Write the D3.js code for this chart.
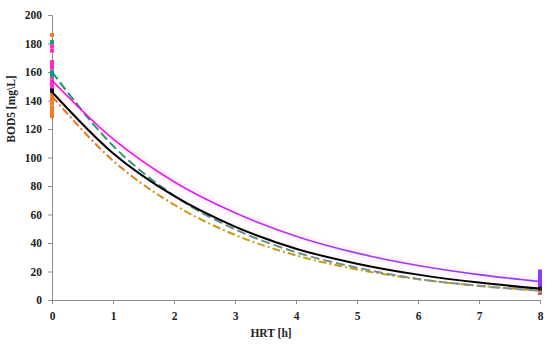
<!DOCTYPE html>
<html>
<head>
<meta charset="utf-8">
<script src="https://cdn.jsdelivr.net/npm/d3@7"></script>
<style>
  body { margin: 0; background: #fff; }
  text { font-family: "Liberation Serif", "DejaVu Serif", serif; font-weight: bold; }
</style>
</head>
<body>
<div id="chart"></div>
<script>
// 時間 [h]
var hours = [0, 1, 2, 3, 4, 5, 6, 7, 8];
var xTicks = [0, 1, 2, 3, 4, 5, 6, 7, 8];
var yTicks = [0, 20, 40, 60, 80, 100, 120, 140, 160, 180, 200];

// 近似曲線 (読み取り値)
var fitBlack   = [146, 103, 73, 51.5, 36, 25.5, 17.8, 12.2, 8];
var fitMagenta = [154, 113, 83, 61.2, 44.8, 32.9, 24.2, 17.8, 13];
var fitGreen   = [160, 108.3, 73.3, 49.6, 33.5, 22.7, 14.8, 9.9, 6.5];
var fitOrange  = [143, 97.8, 66.9, 45.7, 31.3, 21.4, 14.6, 10, 6.6];

// 測定点 HRT=0
var startOrange  = [186, 146, 144, 141, 138, 135, 133, 131, 129];
var startGreen   = [181, 160, 158];
var startMagenta = [178, 175, 167, 165, 163, 156, 153, 151, 149];
var startBlack   = [147];
// 測定点 HRT=8
var endPurple = [20, 18.5, 17, 15.5, 14, 12.5, 11, 9.5, 8, 6.5, 5];
var endOrange = [7, 6];
var endBlack  = [8];

(function() {
var width = 550, height = 345;
var mLeft = 52, mRight = 540, mTop = 15, mBottom = 300;

var svg = d3.select("#chart").append("svg")
  .attr("width", width)
  .attr("height", height);

var x = d3.scaleLinear().domain([0, 8]).range([mLeft, mRight]);
var y = d3.scaleLinear().domain([0, 200]).range([mBottom, mTop]);

// グラデーション
var defs = svg.append("defs");
function grad(id, stops) {
  var g = defs.append("linearGradient")
    .attr("id", id)
    .attr("gradientUnits", "userSpaceOnUse")
    .attr("x1", x(0)).attr("x2", x(8))
    .attr("y1", 0).attr("y2", 0);
  stops.forEach(function(s) {
    g.append("stop").attr("offset", s[0]).attr("stop-color", s[1]);
  });
}
grad("gMag", [["0%", "#ff00d8"], ["25%", "#e61ee8"], ["55%", "#a23cf0"], ["100%", "#8f3cf5"]]);
grad("gGreen", [["0%", "#00a070"], ["30%", "#5f8f80"], ["100%", "#8a9490"]]);
grad("gOrange", [["0%", "#f26a1b"], ["30%", "#c99a1a"], ["100%", "#b0a418"]]);

// 軸
var yAxis = d3.axisLeft(y).tickValues(yTicks).tickSize(4).tickPadding(6);
var gy = svg.append("g").attr("transform", "translate(" + mLeft + ",0)").call(yAxis);
var xAxis = d3.axisBottom(x).tickValues(xTicks).tickSize(4).tickPadding(8);
var gx = svg.append("g").attr("transform", "translate(0," + mBottom + ")").call(xAxis);
[gy, gx].forEach(function(g) {
  g.select(".domain").attr("stroke", "#8c8c8c");
  g.selectAll(".tick line").attr("stroke", "#8c8c8c");
  g.selectAll(".tick text")
    .attr("fill", "#222")
    .attr("font-size", "11.5px")
    .attr("font-family", "Liberation Serif, serif")
    .attr("font-weight", "bold");
});

var line = d3.line()
  .x(function(d, i) { return x(hours[i]); })
  .y(function(d) { return y(d); })
  .curve(d3.curveMonotoneX);

// うっすらしたピンクのにじみ
svg.append("path").attr("d", line(fitMagenta))
  .attr("fill", "none").attr("stroke", "#ffc4f0").attr("stroke-width", 9).attr("opacity", 0.18);
svg.append("path").attr("d", line(fitBlack))
  .attr("fill", "none").attr("stroke", "#ffd0f2").attr("stroke-width", 8).attr("opacity", 0.15);

// 測定点
function points(vals, t, color) {
  svg.selectAll(null).data(vals).enter().append("rect")
    .attr("x", x(t) - 2).attr("y", function(d) { return y(d) - 2; })
    .attr("width", 4).attr("height", 4)
    .attr("fill", color);
}
points(startOrange, 0, "#f47a2a");
points(startMagenta, 0, "#ff2ad0");
points(startGreen, 0, "#14a070");
points(startBlack, 0, "#111");
points(endPurple, 8, "#8e3cf0");
points(endOrange, 8, "#d98a2a");
points(endBlack, 8, "#222");

// 近似曲線
svg.append("path").attr("d", line(fitOrange))
  .attr("fill", "none").attr("stroke", "url(#gOrange)").attr("stroke-width", 2)
  .attr("stroke-dasharray", "8,3,2,3");
svg.append("path").attr("d", line(fitGreen))
  .attr("fill", "none").attr("stroke", "url(#gGreen)").attr("stroke-width", 2)
  .attr("stroke-dasharray", "9,4");
svg.append("path").attr("d", line(fitMagenta))
  .attr("fill", "none").attr("stroke", "url(#gMag)").attr("stroke-width", 1.6);
svg.append("path").attr("d", line(fitBlack))
  .attr("fill", "none").attr("stroke", "#000").attr("stroke-width", 2);

// 軸ラベル
svg.append("text")
  .attr("x", 271).attr("y", 337)
  .attr("text-anchor", "middle")
  .attr("font-size", "11.5px")
  .attr("fill", "#222")
  .text("HRT [h]");
svg.append("text")
  .attr("transform", "translate(15,109) rotate(-90)")
  .attr("text-anchor", "middle")
  .attr("font-size", "11.5px")
  .attr("fill", "#222")
  .text("BOD5 [mg\\L]");
})();
</script>
</body>
</html>
